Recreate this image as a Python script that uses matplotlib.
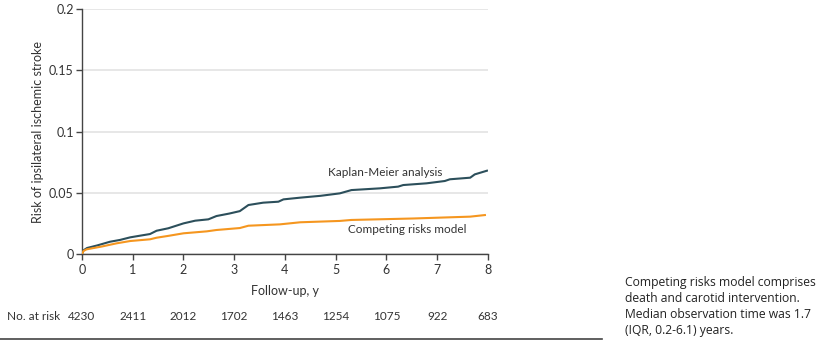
"""Cumulative risk of ipsilateral ischemic stroke: Kaplan-Meier vs competing risks."""

import matplotlib
matplotlib.use("Agg")
import matplotlib.pyplot as plt
import matplotlib.transforms as mtransforms
from matplotlib.lines import Line2D

plt.rcParams['font.family'] = ['Lato', 'DejaVu Sans']

# follow-up time (years) and cumulative risk
km_years = [0, 0.03, 0.1, 0.3, 0.55, 0.75, 0.95, 1.15, 1.34, 1.47, 1.7, 2.0, 2.23,
            2.49, 2.65, 2.9, 3.11, 3.28, 3.57, 3.87, 3.97, 4.3, 4.7, 5.08, 5.31,
            5.87, 6.23, 6.33, 6.79, 7.15, 7.25, 7.65, 7.74, 7.98]
km_risk = [0, 0.003, 0.0049, 0.007, 0.010, 0.0115, 0.0136, 0.015, 0.0163, 0.019,
           0.021, 0.025, 0.0272, 0.0283, 0.031, 0.033, 0.035, 0.040, 0.0419,
           0.0427, 0.0446, 0.046, 0.0475, 0.0495, 0.0522, 0.0536, 0.055, 0.0563,
           0.0577, 0.0596, 0.061, 0.0623, 0.065, 0.068]

cr_years = [0, 0.03, 0.09, 0.4, 0.68, 0.95, 1.34, 1.47, 1.7, 2.0, 2.46, 2.65,
            3.11, 3.28, 3.9, 4.3, 5.08, 5.31, 6.53, 7.65, 7.94]
cr_risk = [0, 0.0025, 0.0038, 0.0062, 0.0087, 0.0106, 0.012, 0.0133, 0.0148,
           0.0169, 0.0185, 0.0196, 0.0212, 0.0231, 0.0242, 0.0259, 0.027, 0.0278,
           0.029, 0.0305, 0.0318]

risk_years = [0, 1, 2, 3, 4, 5, 6, 7, 8]
at_risk = [4230, 2411, 2012, 1702, 1463, 1254, 1075, 922, 683]

KM_COLOR = "#2c4f5b"
CR_COLOR = "#f5961f"
TEXT = "#333333"
FS = 8.5

fig = plt.figure(figsize=(8.19, 3.41), dpi=100)
ax = fig.add_axes([0.1001, 0.2551, 0.4957, 0.7185])

ax.plot(km_years, km_risk, color=KM_COLOR, lw=1.5, solid_joinstyle="round",
        zorder=3)
ax.plot(cr_years, cr_risk, color=CR_COLOR, lw=1.5, solid_joinstyle="round",
        zorder=3)

ax.text(5.97, 0.0665, "Kaplan-Meier analysis", ha="center", va="center",
        fontsize=FS, color=TEXT)
ax.text(6.4, 0.0203, "Competing risks model", ha="center", va="center",
        fontsize=FS, color=TEXT)

ax.set_xlim(0, 8)
ax.set_ylim(0, 0.2)
ax.set_xticks(range(0, 9))
ax.set_yticks([0, 0.05, 0.1, 0.15, 0.2])
ax.set_yticklabels(["0", "0.05", "0.1", "0.15", "0.2"])
ax.yaxis.grid(True, color="#e3e3e3", lw=1.2)
ax.set_axisbelow(True)
for side in ("top", "right"):
    ax.spines[side].set_visible(False)
for side in ("left", "bottom"):
    ax.spines[side].set_color("#444444")
    ax.spines[side].set_linewidth(1.0)
ax.tick_params(colors="#444444", labelcolor=TEXT, labelsize=FS + 0.5, length=4,
               width=1)
ax.tick_params(axis="y", pad=2)
ax.set_xlabel("Follow-up, y", fontsize=FS + 0.5, color=TEXT, labelpad=6)
ax.set_ylabel("Risk of ipsilateral ischemic stroke", fontsize=FS + 0.5,
              color=TEXT, labelpad=3.5)

# number-at-risk row under the x axis
trans = mtransforms.blended_transform_factory(ax.transData, fig.transFigure)
for yr, n in zip(risk_years, at_risk):
    ax.text(yr, 1 - 317 / 341, str(n), transform=trans, ha="center", va="center",
            fontsize=FS, color=TEXT, clip_on=False)
fig.text(7 / 819, 1 - 317 / 341, "No. at risk", ha="left", va="center",
         fontsize=FS, color=TEXT)

fig.add_artist(Line2D([0, 602 / 819], [1 - 339 / 341] * 2, color="#444444",
                      lw=1.2, transform=fig.transFigure))

fig.text(625 / 819, 1 - 276 / 341,
         "Competing risks model comprises\ndeath and carotid intervention.\n"
         "Median observation time was 1.7\n(IQR, 0.2-6.1) years.",
         ha="left", va="top", fontsize=8.7, color="#222222", linespacing=1.3,
         family=["Open Sans", "DejaVu Sans"])

fig.savefig("out.png", dpi=100)
